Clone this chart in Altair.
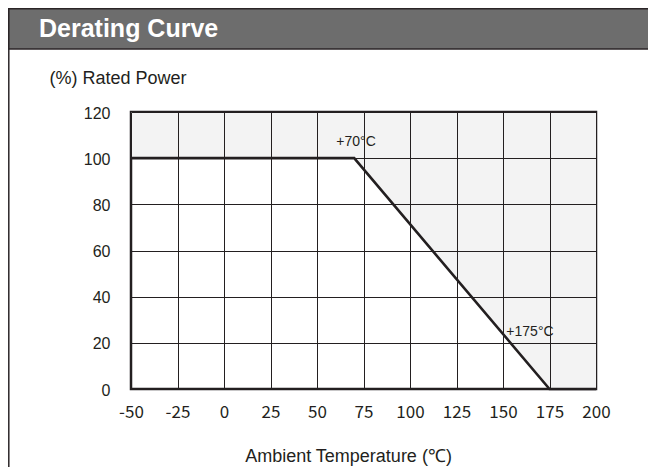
import altair as alt
import pandas as pd

# Derating curve data
temp = [-50, 70, 175, 200]
power = [100, 100, 0, 0]
top = [120, 120, 120, 120]

ann_text = ["+70°C", "+175°C"]
ann_x = [71, 164.5]
ann_y = [107, 24.8]

x_ticks = [-50, -25, 0, 25, 50, 75, 100, 125, 150, 175, 200]
y_ticks = [0, 20, 40, 60, 80, 100, 120]

INK = "#231f20"

curve = pd.DataFrame({"temp": temp, "power": power, "top": top})
ann = pd.DataFrame({"label": ann_text, "x": ann_x, "y": ann_y})
one = pd.DataFrame({"a": [0]})

xscale = alt.Scale(domain=[-50, 200], nice=False)
yscale = alt.Scale(domain=[0, 120], nice=False)

xaxis = alt.Axis(
    values=x_ticks, ticks=False, domain=False, grid=True, gridColor=INK, gridWidth=1,
    gridOpacity=1, labelFont="Noto Sans CJK SC", labelFontSize=17, labelColor=INK,
    labelPadding=15, labelExpr="'' + datum.value",
    title="Ambient Temperature (℃)", titleFont="Liberation Sans",
    titleFontSize=18, titleFontWeight="normal", titleColor=INK, titleX=217, titleY=72,
    titleBaseline="alphabetic", titleAlign="center", zindex=1, labelFlush=False,
)
yaxis = alt.Axis(
    values=y_ticks, ticks=False, domain=False, grid=True, gridColor=INK, gridWidth=1,
    gridOpacity=1, labelFont="Liberation Sans", labelFontSize=16, labelColor=INK,
    labelPadding=21, labelOffset=1, title="(%) Rated Power", titleFont="Liberation Sans",
    titleFontSize=18, titleFontWeight="normal", titleColor=INK, titleAngle=0,
    titleAlign="left", titleBaseline="alphabetic", titleX=-82, titleY=-28.7,
    zindex=1, labelFlush=False,
)

base = alt.Chart(curve)

area = base.mark_area(color="#f3f3f3", opacity=1).encode(
    x=alt.X("temp:Q", scale=xscale, axis=xaxis),
    y=alt.Y("power:Q", scale=yscale, axis=yaxis),
    y2="top:Q",
)

line = base.mark_line(color=INK, strokeWidth=2.6).encode(
    x=alt.X("temp:Q", scale=xscale),
    y=alt.Y("power:Q", scale=yscale),
)

labels = alt.Chart(ann).mark_text(
    font="Liberation Sans", fontSize=14, color=INK, align="center", baseline="middle"
).encode(
    x=alt.X("x:Q", scale=xscale),
    y=alt.Y("y:Q", scale=yscale),
    text="label:N",
)

header = alt.Chart(one).mark_rect(
    fill="#6d6d6d", stroke="#2b2527", strokeWidth=1.5
).encode(
    x=alt.value(-122.2), x2=alt.value(540), y=alt.value(-103.25), y2=alt.value(-63)
)

header_text = alt.Chart(one).mark_text(
    text="Derating Curve", font="Liberation Sans", fontSize=25, fontWeight="bold",
    color="white", align="left", baseline="alphabetic"
).encode(x=alt.value(-92), y=alt.value(-75.3))

frame_left = alt.Chart(one).mark_rule(color="#2b2527", strokeWidth=1.5).encode(
    x=alt.value(-122.2), y=alt.value(-104), y2=alt.value(380)
)

chart = alt.layer(frame_left, header, header_text, area, line, labels).properties(
    width=465, height=277,
    autosize=alt.AutoSizeParams(type="none"),
    padding={"left": 123, "top": 104, "right": 52, "bottom": 78},
    background="white",
).configure_view(stroke=INK, strokeWidth=2.5)

chart.save("out.html", embed_options={"renderer": "svg", "actions": False})
